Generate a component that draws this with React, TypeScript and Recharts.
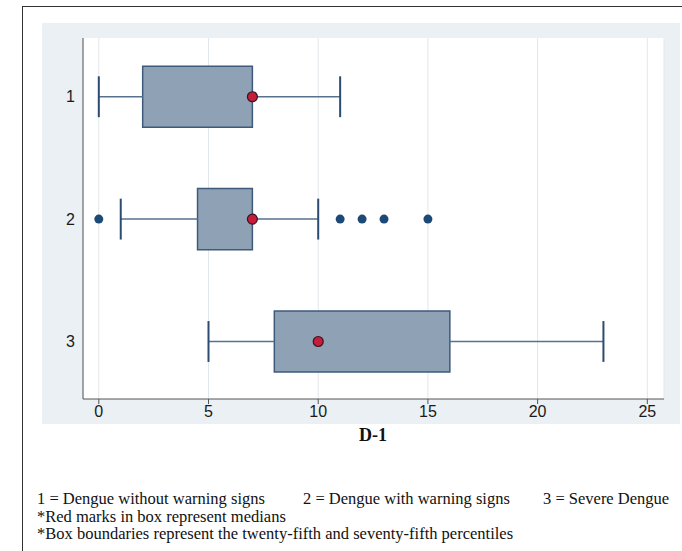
import {
  CartesianGrid,
  ComposedChart,
  ReferenceArea,
  ReferenceLine,
  Scatter,
  XAxis,
  YAxis,
} from "recharts";

const groups = [1, 2, 3];
const whiskerLow = [0, 1, 5];
const q1 = [2, 4.5, 8];
const medians = [7, 7, 10];
const q3 = [7, 7, 16];
const whiskerHigh = [11, 10, 23];
const outlierGroups = [2, 2, 2, 2, 2];
const outlierValues = [0, 11, 12, 13, 15];
const xTicks = [0, 5, 10, 15, 20, 25];
const yTicks = [1, 2, 3];

const BOX_HALF = 0.25;
const CAP_HALF = 0.167;

const boxFill = "#8fa2b5";
const boxStroke = "#3e5a7b";
const whiskerColor = "#56728f";
const capColor = "#2c4b70";

const medianData = groups.map((g, i) => ({ x: medians[i], y: g }));
const outlierData = outlierValues.map((v, i) => ({ x: v, y: outlierGroups[i] }));

const sans = "Liberation Sans, Arial, sans-serif";
const serif = "Liberation Serif, Times New Roman, serif";

// tick text drawn by the axis, sized explicitly
function Tick(props: any) {
  const { x, y, payload, textAnchor, verticalAnchor } = props;
  return (
    <text
      x={x}
      y={y}
      textAnchor={textAnchor}
      dominantBaseline={verticalAnchor === "start" ? "hanging" : "central"}
      fontSize={16}
      fontFamily={sans}
      fill="#1a1a1a"
    >
      {payload.value}
    </text>
  );
}

export default function App() {
  return (
    <div style={{ position: "absolute", left: 0, top: 0, width: 682, height: 551, background: "#fff", overflow: "hidden" }}>
      {/* frame */}
      <div style={{ position: "absolute", left: 22, top: 6, width: 680, height: 560, borderLeft: "1.5px solid #333", borderTop: "1.5px solid #333" }} />
      {/* panel */}
      <div style={{ position: "absolute", left: 42, top: 23, width: 638, height: 401, background: "#eaf0f3" }} />
      <div style={{ position: "absolute", left: 42, top: 23 }}>
        <ComposedChart width={638} height={401} margin={{ top: 15, right: 16, left: 0, bottom: 0 }}>
          <CartesianGrid horizontal={false} stroke="#e2e7ec" fill="#fff" />
          <XAxis
            type="number"
            dataKey="x"
            domain={[-0.72, 25.76]}
            ticks={xTicks}
            allowDataOverflow
            height={25}
            tickSize={5}
            tickMargin={2}
            tick={<Tick />}
            stroke="#555"
          />
          <YAxis
            type="number"
            dataKey="y"
            domain={[0.52, 3.47]}
            ticks={yTicks}
            reversed
            allowDataOverflow
            width={41}
            tickLine={false}
            tickMargin={2}
            tick={<Tick />}
            stroke="#555"
          />
          {groups.map((g, i) => (
            <ReferenceLine
              key={`wl${g}`}
              segment={[{ x: whiskerLow[i], y: g }, { x: q1[i], y: g }]}
              stroke={whiskerColor}
              strokeWidth={1.5}
            />
          ))}
          {groups.map((g, i) => (
            <ReferenceLine
              key={`wh${g}`}
              segment={[{ x: q3[i], y: g }, { x: whiskerHigh[i], y: g }]}
              stroke={whiskerColor}
              strokeWidth={1.5}
            />
          ))}
          {groups.map((g, i) => (
            <ReferenceLine
              key={`cl${g}`}
              segment={[{ x: whiskerLow[i], y: g - CAP_HALF }, { x: whiskerLow[i], y: g + CAP_HALF }]}
              stroke={capColor}
              strokeWidth={2}
            />
          ))}
          {groups.map((g, i) => (
            <ReferenceLine
              key={`ch${g}`}
              segment={[{ x: whiskerHigh[i], y: g - CAP_HALF }, { x: whiskerHigh[i], y: g + CAP_HALF }]}
              stroke={capColor}
              strokeWidth={2}
            />
          ))}
          {groups.map((g, i) => (
            <ReferenceArea
              key={`box${g}`}
              x1={q1[i]}
              x2={q3[i]}
              y1={g - BOX_HALF}
              y2={g + BOX_HALF}
              fill={boxFill}
              fillOpacity={1}
              stroke={boxStroke}
              strokeWidth={1.5}
            />
          ))}
          <Scatter
            data={outlierData}
            isAnimationActive={false}
            shape={(p: any) => <circle cx={p.cx} cy={p.cy} r={4.5} fill="#1d4977" />}
          />
          <Scatter
            data={medianData}
            isAnimationActive={false}
            shape={(p: any) => <circle cx={p.cx} cy={p.cy} r={5} fill="#c41e3a" stroke="#3a1420" strokeWidth={1.2} />}
          />
        </ComposedChart>
      </div>
      <div style={{ position: "absolute", left: 273, top: 425, width: 200, textAlign: "center", fontFamily: serif, fontWeight: "bold", fontSize: 18, color: "#111" }}>
        D-1
      </div>
      <div style={{ position: "absolute", left: 37, top: 490, fontFamily: serif, fontSize: 16.5, lineHeight: "17.5px", color: "#111", whiteSpace: "nowrap" }}>
        <div style={{ position: "relative", height: 17.5 }}>
          <span style={{ position: "absolute", left: 0 }}>1 = Dengue without warning signs</span>
          <span style={{ position: "absolute", left: 266 }}>2 = Dengue with warning signs</span>
          <span style={{ position: "absolute", left: 506 }}>3 = Severe Dengue</span>
        </div>
        <div>*Red marks in box represent medians</div>
        <div>*Box boundaries represent the twenty-fifth and seventy-fifth percentiles</div>
      </div>
    </div>
  );
}
